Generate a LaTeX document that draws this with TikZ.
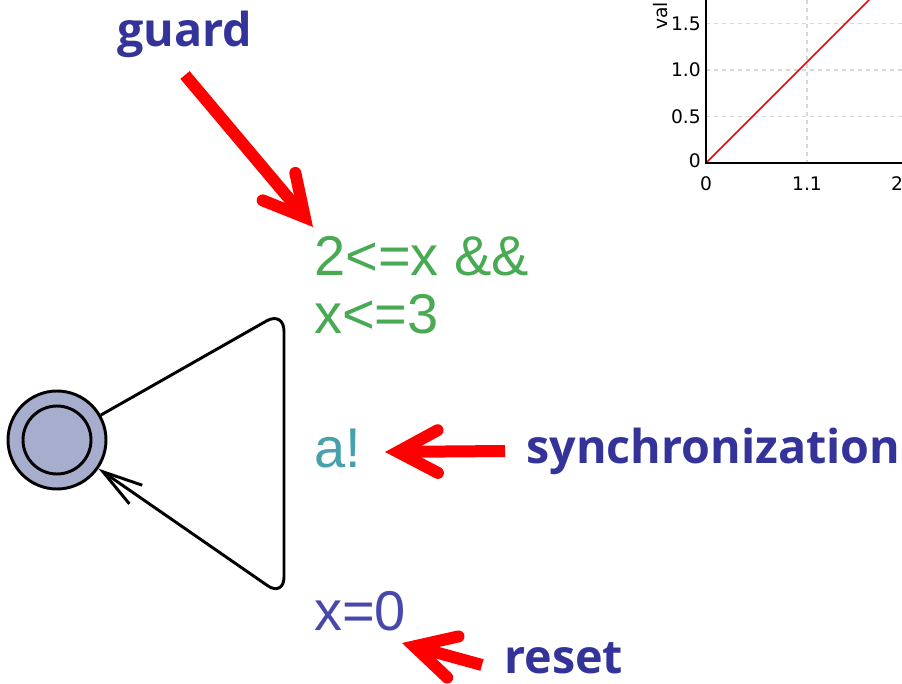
\documentclass[tikz,border=0pt]{standalone}
\usepackage{fontspec}
\setmainfont{Liberation Sans}
\newfontfamily\notefont{Open Sans}
\newfontfamily\plotfont{DejaVu Sans}
\usetikzlibrary{arrows.meta}
\definecolor{guardcol}{RGB}{72,170,82}
\definecolor{synccol}{RGB}{72,160,172}
\definecolor{resetcol}{RGB}{72,72,172}
\definecolor{notecol}{RGB}{51,51,153}
\definecolor{locfill}{RGB}{166,173,205}
\definecolor{gridcol}{RGB}{215,215,215}

\begin{document}
\begin{tikzpicture}[x=0.75pt, y=-0.75pt, every node/.style={inner sep=0pt},
  edgetext/.style={font=\fontsize{42}{50}\selectfont, anchor=base west},
  hint/.style={font=\notefont\bfseries\fontsize{35}{42}\selectfont, text=notecol, anchor=base west},
  pointer/.style={red, line width=9pt, -{Straight Barb[length=30pt, width=32pt, line cap=round, line join=miter]}},
  loc/.style={circle, draw, line width=2.2pt, fill=locfill, minimum size=73.5pt},
  gridline/.style={gridcol, dashed, line width=0.8pt},
  ticklabel/.style={font=\plotfont\fontsize{14}{16}\selectfont}]
\useasboundingbox (0,0) rectangle (902,684);

\node[loc] (loc) at (57,440) {};
\draw[line width=2.2pt] (loc.center) circle[radius=34];
\coordinate (loopTop) at (284,311);
\coordinate (loopBot) at (284,597);
\draw[line width=2.2pt, rounded corners=15pt, -{Straight Barb[length=30pt, width=17pt]}]
  (loc) -- (loopTop) -- (loopBot) -- (loc);

\node[edgetext, text=guardcol] (guard1) at (314,275) {2<=x \&\&};
\node[edgetext, text=guardcol] (guard2) at (314,333) {x<=3};
\node[edgetext, text=synccol] (sync) at (314,467) {a!};
\node[edgetext, text=resetcol] (reset) at (314,630) {x=0};

\node[hint] (guardnote) at (117,47) {guard};
\node[hint] (syncnote) at (526,463) {synchronization};
\node[hint, text depth=0pt] (resetnote) at (504,673) {reset};

\coordinate (guardfrom) at (185,75);
\coordinate (guardto) at (313,227);
\coordinate (syncfrom) at (505,451);
\coordinate (syncto) at (385,452);
\coordinate (resetfrom) at (482,665);
\coordinate (resetto) at (402,643);
\draw[pointer] (guardfrom) -- (guardto);
\draw[pointer] (syncfrom) -- (syncto);
\draw[pointer] (resetfrom) -- (resetto);

\draw[gridline] (807,0) -- (807,163);
\foreach \v/\y in {0.5/116.5, 1.0/70, 1.5/23.5} {
  \draw[gridline] (706,\y) -- (902,\y);
  \node[ticklabel, anchor=east] (ytick\v) at (701,\y) {\v};
}
\draw[red, line width=1.2pt] (706,163) -- (869,0);
\draw[line width=1.5pt] (706,0) -- (706,163) -- (902,163);
\node[ticklabel, anchor=east] (ytick0) at (701,161) {0};
\node[ticklabel] (xtick0) at (706,184) {0};
\node[ticklabel] (xtick1) at (807,184) {1.1};
\node[ticklabel] (xtick2) at (897,184) {2};
\node[ticklabel, rotate=90, anchor=west] (ylabel) at (661,30) {val};
\end{tikzpicture}
\end{document}
